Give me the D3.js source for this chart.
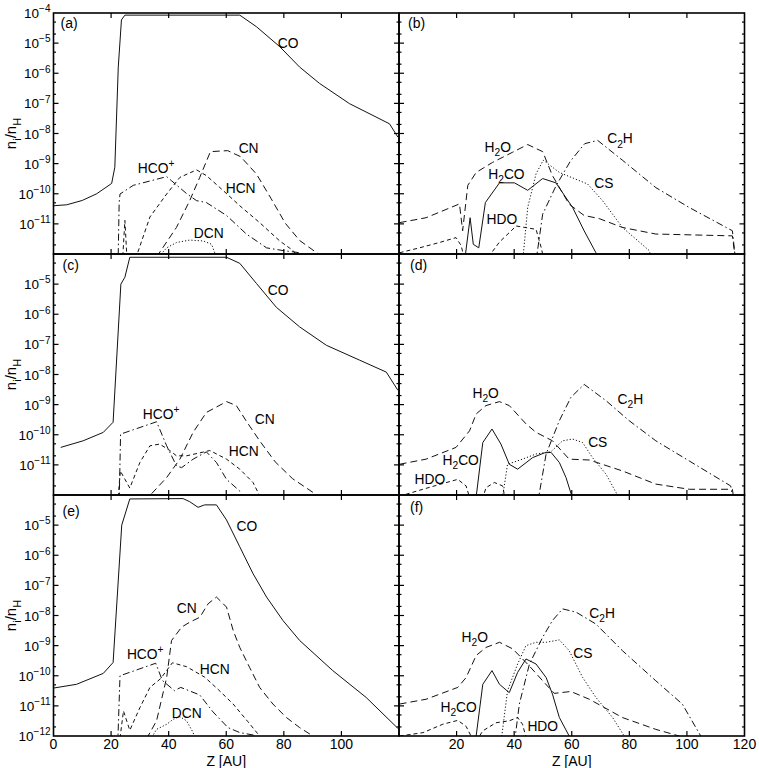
<!DOCTYPE html>
<head>
<meta charset="utf-8">
<style>
body { margin: 0; background: #fff; }
text { font-family: "Liberation Sans", Arial, Helvetica, sans-serif; fill: #000; }
</style>
</head>
<body>

<script src="https://d3js.org/d3.v7.min.js"></script>
<script>
// n_i/n_H against height Z [AU]
var zTicks = [0, 20, 40, 60, 80, 100, 120];
var decades = [1e-12, 1e-11, 1e-10, 1e-9, 1e-8, 1e-7, 1e-6, 1e-5, 1e-4];
var decadeLabels = ["10^{\u221212}", "10^{\u221211}", "10^{\u221210}", "10^{\u22129}", "10^{\u22128}", "10^{\u22127}", "10^{\u22126}", "10^{\u22125}", "10^{\u22124}"];

// (a)
var coA = [[0,4.0e-11],[4.6,4.3e-11],[10,6.0e-11],[15,1.0e-10],[20.2,2.2e-10],[21.3,7.6e-10],[22.5,1.6e-6],[23.6,5.9e-5],[24.8,8.5e-5],[64.7,8.5e-5],[70.5,3.5e-5],[78.6,7.6e-6],[85.5,1.6e-6],[92.4,4.6e-7],[102.8,9.8e-8],[116.7,2.1e-8],[119.6,7.6e-9]];
var hcopA = [[22.3,1e-13],[22.8,5.0e-11],[23.1,9.8e-11],[27.7,1.9e-10],[39.3,3.7e-10],[41,2.7e-10],[46.4,9.8e-11],[49.7,5.9e-11],[53.1,5.1e-11],[60.1,1.9e-11],[67,4.6e-12],[74,1.6e-12],[79.7,1.3e-12],[85.5,1.1e-12],[90,6e-13]];
var hcnA = [[23.5,1e-13],[24.8,1.3e-11],[26,1e-13],[28,5e-13],[33.5,1.7e-11],[39.3,9.8e-11],[43.9,3.5e-10],[49.7,6.2e-10],[53.1,4.0e-10],[57.8,1.6e-10],[64.7,4.0e-11],[71.6,1.1e-11],[78.6,2.7e-12],[83.2,1.3e-12],[86,6e-13]];
var cnA = [[35.8,8e-13],[42.7,7.6e-12],[47.3,5.9e-11],[50.8,3.5e-10],[54.5,2.5e-9],[60.5,2.7e-9],[65,1.7e-9],[70.5,4.5e-10],[75.5,7.1e-11],[80.5,1.05e-11],[85.5,2.8e-12],[92,1.0e-12],[94,7e-13]];
var dcnA = [[36.5,8e-13],[39.3,1.6e-12],[42.7,2.4e-12],[47.3,2.9e-12],[52.1,2.7e-12],[54.9,2.1e-12],[56,1.1e-12],[56.5,7e-13]];

// (b)
var h2oB = [[0.2,1.1e-11],[9.4,1.6e-11],[21,4.6e-11],[22.1,5.9e-12],[23.9,1.9e-10],[26.8,5.1e-10],[32.5,1.1e-9],[39.5,2.4e-9],[44.7,4.3e-9],[49.9,2.5e-9],[53.3,4.0e-10],[59.1,4.5e-11],[64.3,1.9e-11],[69.5,1.5e-11],[77.6,7.6e-12],[89.2,4.6e-12],[115.8,4.0e-12],[117,5e-13]];
var hdoB = [[0.2,1.1e-12],[7.1,1.6e-12],[14,2.4e-12],[19.8,3.5e-12],[21.6,1.9e-12],[23,5e-13],[29.5,5e-13],[34.9,2.5e-12],[40.7,8.5e-12],[47.6,6.6e-12],[49.5,1.5e-12],[50.5,5e-13]];
var h2coB = [[22.7,5e-13],[24.7,1.6e-11],[25.8,2.1e-12],[27.7,1.6e-12],[30,5.1e-11],[34.9,2.3e-10],[40.1,2.3e-10],[44.7,1.3e-10],[49.9,3.2e-10],[54.5,2.3e-10],[60.3,3.5e-11],[64.3,5.9e-12],[68.4,1.1e-12],[69.5,5e-13]];
var csB = [[42.9,5e-13],[44.7,3.5e-11],[47.6,4.6e-10],[50.1,1.3e-9],[55.7,5.1e-10],[65.5,2.1e-10],[70.7,5.9e-11],[77.6,7.6e-12],[86.9,1.3e-12],[88,6e-13]];
var c2hB = [[47.5,5e-13],[49.9,2.1e-11],[54.5,1.8e-10],[59.5,1.2e-9],[64.5,4.6e-9],[69,5.9e-9],[77.6,1.3e-9],[89.2,1.6e-10],[100.8,3.5e-11],[115.8,5.9e-12],[117,5e-13]];

// (c)
var coC = [[2.5,3.8e-11],[10.3,6.3e-11],[17.3,1.2e-10],[20.7,2.6e-10],[23.4,1.0e-5],[24.8,1.7e-5],[26.5,7.8e-5],[60.1,7.8e-5],[64.7,4.9e-5],[70.5,1.05e-5],[77.4,1.7e-6],[85.5,3.8e-7],[94.8,9.3e-8],[106.3,3.0e-8],[115.6,1.2e-8],[119.6,3.0e-9]];
var hcopC = [[22.8,5e-13],[23.3,1.05e-10],[35.8,2.7e-10],[39.3,4.3e-11],[42.7,9.3e-12],[44.5,8.1e-12],[48.5,1.55e-11],[53.1,2.7e-11],[56.6,1.2e-11],[60.1,3.3e-12],[64.7,1.35e-12],[66.5,5e-13]];
var hcnC = [[22.3,5e-13],[23.2,6.3e-12],[26.5,1.7e-12],[30,1.2e-11],[33.5,4.3e-11],[36.9,4.9e-11],[40.4,3.0e-11],[42.7,2.0e-11],[46.2,2.0e-11],[50.8,2.5e-11],[54.3,3.0e-11],[60.1,1.55e-11],[64.7,7.2e-12],[69.3,2.6e-12],[72,8e-13]];
var cnC = [[31.5,6e-13],[39.3,3.8e-12],[43.9,1.55e-11],[48.5,1.2e-10],[53.1,5.5e-10],[60.1,1.26e-9],[63.5,9.3e-10],[67,2.8e-10],[71.6,6.3e-11],[77,1.26e-11],[83,3.5e-12],[91,1.07e-12],[93,6e-13]];

// (d)
var h2oD = [[0.2,1.05e-11],[9.4,1.55e-11],[19.8,3.8e-11],[24.5,1.35e-10],[26.8,4.9e-10],[30.2,9.3e-10],[34.9,1.26e-9],[38.3,9.3e-10],[44.1,2.3e-10],[47.6,1.2e-10],[53.3,6.3e-11],[59.1,1.55e-11],[66.1,1.45e-11],[77.6,6.3e-12],[89.2,2.3e-12],[100.8,1.55e-12],[115.8,1.55e-12],[116.5,5e-13]];
var h2coD = [[26.5,5e-13],[29.1,5.5e-11],[32.3,1.55e-10],[35.4,4.9e-11],[38.3,1.05e-11],[41.2,7.2e-12],[46.4,1.74e-11],[50.5,2.5e-11],[52.8,2.6e-11],[55.7,1.2e-11],[58,3.8e-12],[60.9,5e-13]];
var csD = [[35.6,5e-13],[37.7,1.05e-11],[42.9,1.55e-11],[47.6,2.3e-11],[52.8,2.75e-11],[56.8,6.3e-11],[60.3,7.2e-11],[63.8,5.5e-11],[67.2,1.74e-11],[71.9,4.9e-12],[77.6,5e-13]];
var c2hD = [[48.1,5e-13],[51.1,2.3e-11],[55.7,2.95e-10],[59.7,1.74e-9],[64.3,4.7e-9],[71.9,1.35e-9],[79.9,2.95e-10],[89.2,6.3e-11],[100.8,1.35e-11],[115.2,2.0e-12],[116.3,5e-13]];
var hdoD = [[0,9e-13],[8.3,1.55e-12],[15.2,2.4e-12],[20.4,3.3e-12],[23.3,2.0e-12],[25.2,5e-13],[28.5,5e-13],[30.2,1.74e-12],[33.1,2.6e-12],[36,2.0e-12],[37.2,5e-13]];

// (e)
var coE = [[0,3.9e-11],[8,5.2e-11],[17.3,1.2e-10],[20.7,2.75e-10],[23.7,1.0e-5],[26.5,7.4e-5],[45,7.6e-5],[47.3,6.0e-5],[50.2,3.9e-5],[52.5,4.7e-5],[56.6,4.7e-5],[60.1,1.48e-5],[64.7,1.9e-6],[69.3,2.45e-7],[74,4.1e-8],[79.7,6.8e-9],[85.5,1.48e-9],[97,1.48e-10],[108.6,1.9e-11],[119.6,1.8e-12]];
var hcopE = [[22.3,5e-13],[23.1,1.0e-10],[35.5,2.6e-10],[37.8,7e-11],[42,3.2e-11],[44.2,4.1e-11],[50.8,2.3e-11],[55.4,6.3e-12],[60.6,1.9e-12],[64.7,1.3e-12],[70,1.05e-12],[73,6e-13]];
var hcnE = [[22.8,5e-13],[24.3,6.8e-12],[26.5,1.55e-12],[30,8.7e-12],[33.5,4.1e-11],[37.2,8e-11],[41.3,2.7e-10],[46.2,2.0e-10],[52.5,9e-11],[57.2,3.5e-11],[62.4,1.15e-11],[67.5,3e-12],[71.6,1.0e-12],[73,6e-13]];
var cnE = [[32.3,8e-13],[35.8,3.2e-12],[39.3,8.7e-11],[41,1.48e-9],[44.5,4.1e-9],[47.3,6.0e-9],[50.8,8.7e-9],[53.7,2.45e-8],[56.6,4.1e-8],[60.1,1.9e-8],[62.4,3.2e-9],[64.7,8.7e-10],[68.1,1.9e-10],[71.6,4.1e-11],[76.2,1.15e-11],[80.9,4.1e-12],[85.5,1.9e-12],[90.1,1.0e-12],[92,6e-13]];
var dcnE = [[33,6e-13],[35.8,1.66e-12],[39.3,2.45e-12],[41.6,3.6e-12],[43.9,4.4e-12],[46.2,3.2e-12],[48.5,1.3e-12],[49.5,6e-13]];

// (f)
var h2oF = [[0.2,1.15e-11],[9.4,1.66e-11],[20.4,4.1e-11],[23.3,8.7e-11],[26.8,4.7e-10],[30.2,8.7e-10],[34.9,1.29e-9],[39.5,7.8e-10],[45.3,2.1e-10],[49.9,6.8e-11],[53.9,2.6e-11],[59.7,3.0e-11],[66.1,1.66e-11],[77.6,4.1e-12],[89.2,1.66e-12],[97.3,1.0e-12],[99,6e-13]];
var h2coF = [[26.5,6e-13],[29.1,5.2e-11],[32.3,1.48e-10],[34.9,5.2e-11],[38.3,2.75e-11],[41.2,1.29e-10],[44.1,3.6e-10],[47.6,2.45e-10],[51.1,8.7e-11],[53.3,2.45e-11],[55.7,4.1e-12],[59.1,1.0e-12],[60,6e-13]];
var csF = [[35.4,6e-13],[37.7,3.2e-11],[41.2,2.45e-10],[44.1,1.0e-9],[47.6,1.29e-9],[51.1,1.29e-9],[55.7,1.55e-9],[59.1,6.8e-10],[63.8,8.7e-11],[68.4,1.9e-11],[74.2,4.1e-12],[78.2,1.0e-12],[79,6e-13]];
var c2hF = [[40.1,6e-13],[41.8,1.15e-11],[45.3,2.45e-10],[49.9,1.9e-9],[53.3,6.8e-9],[56.8,1.66e-8],[61.5,1.29e-8],[68.4,5.2e-9],[77.6,6.8e-10],[89.2,6.8e-11],[98.4,1.15e-11],[104.8,1.0e-12],[105.5,6e-13]];
var hdoF = [[0.2,1.0e-12],[8.3,1.29e-12],[15.2,2.45e-12],[20.4,3.3e-12],[23.3,2.1e-12],[25,1.0e-12],[26.5,6e-13],[29.1,1.48e-12],[33.7,2.75e-12],[38.3,3.2e-12],[41.2,4.1e-12],[42.9,2.45e-12],[44,1.0e-12],[45,6e-13]];

// curve labels: [text, Z, n_i/n_H]
var labA = [["CO",77.9,6.8e-6],["CN",64.3,2.3e-9],["HCO^{+}",29.3,5.0e-10],["HCN",59.8,1.07e-10],["DCN",48.7,3.4e-12]];
var labB = [["H_{2}O",29.7,2.5e-9],["C_{2}H",72.3,4.7e-9],["H_{2}CO",31,3.2e-10],["CS",67.8,1.5e-10],["HDO",30.4,1.0e-11]];
var labC = [["CO",74.4,4.3e-6],["HCO^{+}",31,3.4e-10],["CN",69.9,2.3e-10],["HCN",60.9,1.9e-11]];
var labD = [["H_{2}O",25.5,1.7e-9],["C_{2}H",75.9,1.07e-9],["CS",65.7,4.0e-11],["H_{2}CO",15.1,1.0e-11],["HDO",5.4,2.3e-12]];
var labE = [["CO",63.6,6.3e-6],["CN",42.8,1.17e-8],["HCO^{+}",25.5,3.7e-10],["HCN",50.8,1.17e-10],["DCN",41.1,4.0e-12]];
var labF = [["C_{2}H",66.1,8.5e-9],["H_{2}O",21.7,1.35e-9],["CS",60.5,4.0e-10],["H_{2}CO",14.4,6.3e-12],["HDO",44.6,1.48e-12]];

var dash = { solid: null, long: "7,4", short: "4,3", dashdot: "7,3,1.5,3", dot: "1.2,2" };

var panels = [
    { name: "(a)", col: 0, row: 0, labels: labA, lx: 7, ly: 15,
      series: [[coA, "solid"], [hcopA, "dashdot"], [hcnA, "short"], [cnA, "long"], [dcnA, "dot"]] },
    { name: "(b)", col: 1, row: 0, labels: labB, lx: 9, ly: 15,
      series: [[h2oB, "long"], [hdoB, "short"], [h2coB, "solid"], [csB, "dot"], [c2hB, "dashdot"]] },
    { name: "(c)", col: 0, row: 1, labels: labC, lx: 9, ly: 16,
      series: [[coC, "solid"], [hcopC, "dashdot"], [hcnC, "short"], [cnC, "long"]] },
    { name: "(d)", col: 1, row: 1, labels: labD, lx: 11, ly: 16,
      series: [[h2oD, "long"], [h2coD, "solid"], [csD, "dot"], [c2hD, "dashdot"], [hdoD, "short"]] },
    { name: "(e)", col: 0, row: 2, labels: labE, lx: 9, ly: 21,
      series: [[coE, "solid"], [hcopE, "dashdot"], [hcnE, "short"], [cnE, "long"], [dcnE, "dot"]] },
    { name: "(f)", col: 1, row: 2, labels: labF, lx: 11, ly: 17,
      series: [[h2oF, "long"], [h2coF, "solid"], [csF, "dot"], [c2hF, "dashdot"], [hdoF, "short"]] }
];

var width = 759, height = 768;
var left0 = 53.5, pw = 345.5, top0 = 13, ph = 241;

var svg = d3.select("body").append("svg")
    .attr("width", width)
    .attr("height", height);

// text with _{sub} and ^{sup} runs
function rich(t, s, size) {
    var parts = s.split(/([_^]\{[^}]*\})/);
    var shift = 0;
    parts.forEach(function (p) {
        if (!p) return;
        var type = p[0] == "_" ? 1 : (p[0] == "^" ? -1 : 0);
        var txt = type ? p.slice(2, -1) : p;
        var target = type == 1 ? size * 0.32 : (type == -1 ? -size * 0.42 : 0);
        t.append("tspan")
            .attr("dy", target - shift)
            .attr("font-size", type ? size * 0.74 : size)
            .text(txt);
        shift = target;
    });
}

panels.forEach(function (p, i) {
    var x0 = left0 + p.col * pw, y0 = top0 + p.row * ph;
    var x = d3.scaleLinear().domain([0, 120]).range([x0, x0 + pw]);
    var y = d3.scaleLog().domain([1e-12, 1e-4]).range([y0 + ph, y0]);

    svg.append("clipPath").attr("id", "clip" + i)
        .append("rect")
        .attr("x", x0).attr("y", y0)
        .attr("width", pw).attr("height", ph);

    var line = d3.line()
        .x(function (d) { return x(d[0]); })
        .y(function (d) { return y(d[1]); });

    var g = svg.append("g").attr("clip-path", "url(#clip" + i + ")");
    p.series.forEach(function (s) {
        g.append("path")
            .datum(s[0])
            .attr("d", line)
            .attr("fill", "none")
            .attr("stroke", "#111")
            .attr("stroke-width", 1)
            .attr("stroke-dasharray", dash[s[1]]);
    });

    // ticks, inward on all four sides
    var ax = svg.append("g").attr("stroke", "#000").attr("stroke-width", 1.2);
    decades.slice(1, -1).forEach(function (d) {
        ax.append("line").attr("x1", x0).attr("x2", x0 + 5).attr("y1", y(d)).attr("y2", y(d));
        ax.append("line").attr("x1", x0 + pw - 5).attr("x2", x0 + pw).attr("y1", y(d)).attr("y2", y(d));
    });
    decades.slice(0, -1).forEach(function (d) {
        [2, 5].forEach(function (m) {
            ax.append("line").attr("x1", x0).attr("x2", x0 + 2.5).attr("y1", y(d * m)).attr("y2", y(d * m));
            ax.append("line").attr("x1", x0 + pw - 2.5).attr("x2", x0 + pw).attr("y1", y(d * m)).attr("y2", y(d * m));
        });
    });
    zTicks.slice(1, -1).forEach(function (z) {
        ax.append("line").attr("x1", x(z)).attr("x2", x(z)).attr("y1", y0).attr("y2", y0 + 5);
        ax.append("line").attr("x1", x(z)).attr("x2", x(z)).attr("y1", y0 + ph - 5).attr("y2", y0 + ph);
    });

    svg.append("rect")
        .attr("x", x0).attr("y", y0)
        .attr("width", pw).attr("height", ph)
        .attr("fill", "none")
        .attr("stroke", "#000")
        .attr("stroke-width", 1.6);

    svg.append("text")
        .attr("x", x0 + p.lx).attr("y", y0 + p.ly)
        .attr("font-size", 14)
        .text(p.name);

    p.labels.forEach(function (l) {
        var t = svg.append("text")
            .attr("x", x(l[1])).attr("y", y(l[2]));
        rich(t, l[0], 13.8);
    });

    if (p.col == 0) {
        decades.forEach(function (d, k) {
            if (k == 0 && p.row != 2) return;
            if (k == decades.length - 1 && p.row != 0) return;
            var t = svg.append("text")
                .attr("x", x0 - 3).attr("y", y(d) + 5)
                .attr("text-anchor", "end");
            rich(t, decadeLabels[k], 13.5);
        });
        var yt = svg.append("text")
            .attr("transform", "translate(" + 16 + "," + (y0 + ph / 2) + ") rotate(-90)")
            .attr("text-anchor", "middle");
        rich(yt, "n_{i}/n_{H}", 15);
    }

    if (p.row == 2) {
        zTicks.forEach(function (z) {
            if (p.col == 0 && z == 120) return;
            if (p.col == 1 && z == 0) return;
            svg.append("text")
                .attr("x", x(z)).attr("y", y0 + ph + 13)
                .attr("text-anchor", "middle")
                .attr("font-size", 14)
                .text(z);
        });
        svg.append("text")
            .attr("x", x0 + pw / 2).attr("y", y0 + ph + 29.5)
            .attr("text-anchor", "middle")
            .attr("font-size", 14)
            .text("Z [AU]");
    }
});
</script>
</body>
